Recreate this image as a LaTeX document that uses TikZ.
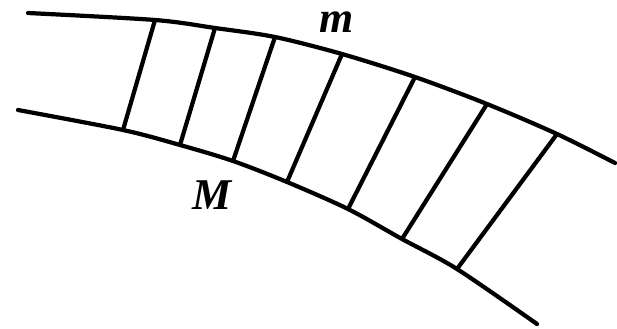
\documentclass[tikz,border=0pt]{standalone}
\usepackage{fontspec}
\setmainfont{Liberation Serif}
\usetikzlibrary{positioning}

\begin{document}
\begin{tikzpicture}[
    x=0.02cm, y=-0.02cm,
    font=\fontsize{25}{30}\selectfont\bfseries\itshape,
    curve/.style={line width=2.4pt, line cap=round},
    rung/.style={line width=2.4pt}
  ]
  \useasboundingbox (0,0) rectangle (617,328);
  % ends of the rungs on the upper curve m
  \coordinate (t1) at (155,20);
  \coordinate (t2) at (215,28);
  \coordinate (t3) at (275,37);
  \coordinate (t4) at (342,54);
  \coordinate (t5) at (415,77);
  \coordinate (t6) at (487,104);
  \coordinate (t7) at (557,134);
  % ends of the rungs on the lower curve M
  \coordinate (b1) at (123,130);
  \coordinate (b2) at (180,145);
  \coordinate (b3) at (233,161);
  \coordinate (b4) at (287,182);
  \coordinate (b5) at (348,209);
  \coordinate (b6) at (402,239);
  \coordinate (b7) at (457,269);
  \coordinate (mstart) at (28,13);
  \coordinate (mend) at (615,163);
  \coordinate (Mstart) at (18,110);
  \coordinate (Mend) at (537,324);
  \draw[curve] plot[smooth] coordinates {(mstart) (t1) (t2) (t3) (t4) (t5) (t6) (t7) (mend)};
  \draw[curve] plot[smooth] coordinates {(Mstart) (b1) (b2) (b3) (b4) (b5) (b6) (b7) (Mend)};
  \draw[rung] (t1) -- (b1);
  \draw[rung] (t2) -- (b2);
  \draw[rung] (t3) -- (b3);
  \draw[rung] (t4) -- (b4);
  \draw[rung] (t5) -- (b5);
  \draw[rung] (t6) -- (b6);
  \draw[rung] (t7) -- (b7);
  \node (lm) at (337,22) {m};
  \node (lM) at (212,195) {M};
\end{tikzpicture}
\end{document}
